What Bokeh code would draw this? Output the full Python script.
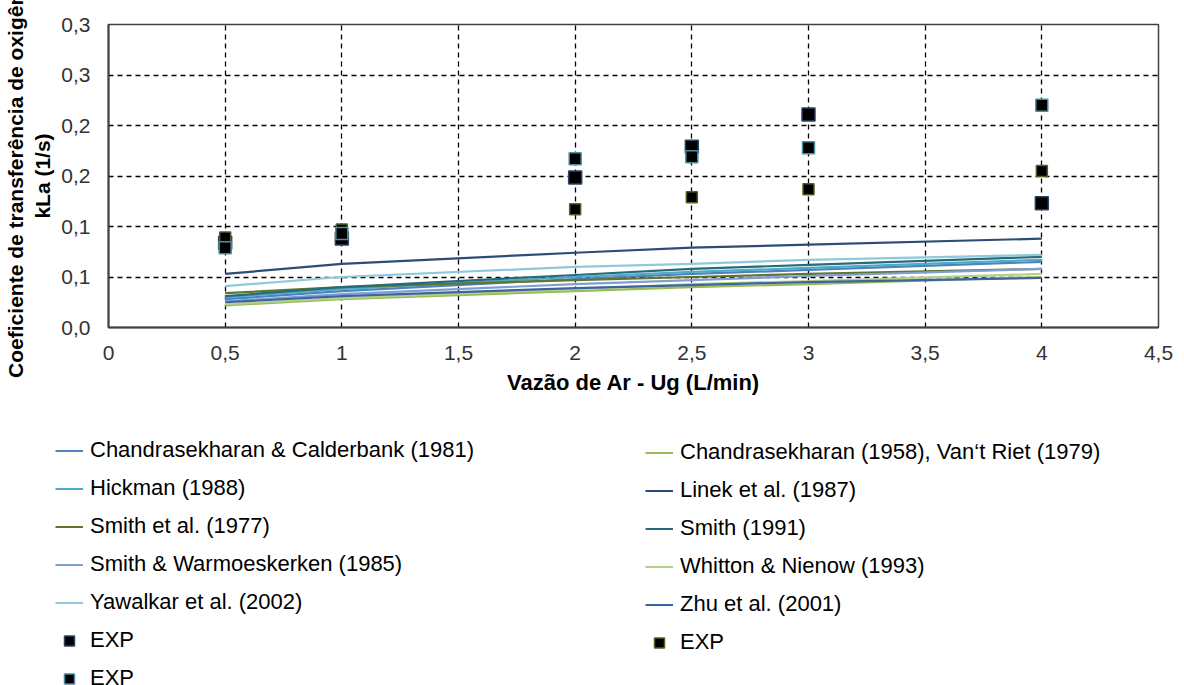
from bokeh.plotting import figure
from bokeh.layouts import column
from bokeh.models import Legend, LegendItem, CustomJSTickFormatter, FixedTicker, Range1d
from bokeh.embed import file_html
from bokeh.resources import INLINE

x_model = [0.5, 1, 2, 2.5, 3, 4]
x_exp = [0.5, 1, 2, 2.5, 3, 4]

cc1981 = [0.028, 0.036, 0.048, 0.053, 0.057, 0.065]
chandra1958 = [0.022, 0.028, 0.036, 0.040, 0.043, 0.050]
hickman = [0.030, 0.038, 0.050, 0.055, 0.059, 0.067]
linek = [0.053, 0.063, 0.074, 0.079, 0.082, 0.088]
smith1977 = [0.034, 0.040, 0.047, 0.050, 0.053, 0.058]
smith1991 = [0.031, 0.040, 0.052, 0.058, 0.062, 0.070]
smith_warmo = [0.026, 0.033, 0.043, 0.047, 0.051, 0.058]
whitton = [0.023, 0.029, 0.038, 0.043, 0.046, 0.053]
yawalkar = [0.041, 0.050, 0.060, 0.063, 0.067, 0.072]
zhu = [0.025, 0.031, 0.039, 0.042, 0.045, 0.049]

exp1 = [0.084, 0.088, 0.1485, 0.179, 0.211, 0.123]
exp2 = [0.089, 0.097, 0.117, 0.129, 0.137, 0.155]
exp3 = [0.079, 0.093, 0.167, 0.169, 0.178, 0.220]

series = [
    ("Chandrasekharan & Calderbank (1981)", cc1981, "#4F81BD"),
    ("Chandrasekharan (1958), Van\u2018t Riet (1979)", chandra1958, "#9BBB59"),
    ("Hickman (1988)", hickman, "#4BACC6"),
    ("Linek et al. (1987)", linek, "#2C4D75"),
    ("Smith et al. (1977)", smith1977, "#5F7530"),
    ("Smith (1991)", smith1991, "#276A7C"),
    ("Smith & Warmoeskerken (1985)", smith_warmo, "#7F9FD3"),
    ("Whitton & Nienow (1993)", whitton, "#B3CF8A"),
    ("Yawalkar et al. (2002)", yawalkar, "#8FCADB"),
    ("Zhu et al. (2001)", zhu, "#3C64A0"),
]

exps = [
    ("EXP", exp1, "#2A4466", 13),
    ("EXP", exp2, "#4F6228", 11),
    ("EXP", exp3, "#4A8FA3", 12),
]

FONT = "Liberation Sans"

# ---------------- main chart ----------------
p = figure(width=1184, height=420, output_backend="svg", toolbar_location=None,
           x_range=Range1d(0, 4.5), y_range=Range1d(0, 0.3),
           min_border_left=108, min_border_right=26, min_border_top=24,
           min_border_bottom=93)
p.frame_align = False

for name, ys, col in series:
    p.line(x_model, ys, line_color=col, line_width=2.2)
for name, ys, col, sz in exps:
    p.scatter(x_exp, ys, marker="square", size=sz, fill_color="black",
              line_color=col, line_width=1.5)

p.xaxis.ticker = FixedTicker(ticks=[0, 0.5, 1, 1.5, 2, 2.5, 3, 3.5, 4, 4.5])
p.yaxis.ticker = FixedTicker(ticks=[0, 0.05, 0.1, 0.15, 0.2, 0.25, 0.3])
p.xaxis.formatter = CustomJSTickFormatter(code="""
  var v = Math.round(tick*10)/10;
  return String(v).replace('.', ',');
""")
p.yaxis.formatter = CustomJSTickFormatter(code="""
  var v = Math.round(tick*10 + 1e-9)/10;
  return v.toFixed(1).replace('.', ',');
""")

for ax in (p.xaxis[0], p.yaxis[0]):
    ax.major_tick_line_color = None
    ax.minor_tick_line_color = None
    ax.axis_line_color = "#404040"
    ax.axis_line_width = 2
    ax.major_label_text_font = FONT
    ax.major_label_text_font_size = "21px"
    ax.major_label_text_color = "#333333"
    ax.axis_label_text_font = FONT
    ax.axis_label_text_font_size = "22px"
    ax.axis_label_text_font_style = "bold"
    ax.axis_label_text_color = "black"

p.xaxis.axis_label = "Vaz\u00e3o de Ar - Ug (L/min)"
p.xaxis.major_label_standoff = 12
p.xaxis.axis_label_standoff = 7
p.yaxis.axis_label = "Coeficiente de transfer\u00eancia de oxig\u00eanio\nkLa (1/s)"
p.yaxis.axis_label_text_font_size = "21px"
p.yaxis.major_label_standoff = 12
p.yaxis.axis_label_standoff = 4

p.xgrid.grid_line_color = "black"
p.ygrid.grid_line_color = "black"
p.xgrid.grid_line_dash = "5 4"
p.ygrid.grid_line_dash = "5 4"
p.xgrid.grid_line_width = 1.3
p.ygrid.grid_line_width = 1.3
p.outline_line_color = "#404040"
p.outline_line_width = 1.5
p.background_fill_color = "white"
p.border_fill_color = "white"

# ---------------- legend panel ----------------
# legend proxies reuse the series data; the ranges keep them out of view
leg = figure(width=1184, height=265, output_backend="svg", toolbar_location=None,
             x_range=Range1d(100, 101), y_range=Range1d(100, 101),
             min_border_left=0, min_border_right=0, min_border_top=0,
             min_border_bottom=0, x_axis_location=None, y_axis_location=None)
leg.frame_align = False
leg.xgrid.visible = False
leg.ygrid.visible = False
leg.outline_line_color = None
leg.background_fill_color = "white"
leg.border_fill_color = "white"

proxies = []
for name, ys, col in series:
    r = leg.line(x_model, ys, line_color=col, line_width=2)
    proxies.append((name, r))
for name, ys, col, sz in exps:
    r = leg.scatter(x_exp, ys, marker="square", size=sz, fill_color="black",
                    line_color=col, line_width=1.5)
    proxies.append((name, r))


def mk_legend(idx, loc):
    lg = Legend(items=[LegendItem(label=proxies[i][0], renderers=[proxies[i][1]]) for i in idx],
                location=loc, orientation="vertical")
    lg.label_text_font = FONT
    lg.label_text_font_size = "22px"
    lg.label_text_color = "black"
    lg.glyph_width = 28
    lg.glyph_height = 25
    lg.label_height = 22
    lg.spacing = 12
    lg.label_standoff = 7
    lg.padding = 0
    lg.margin = 0
    lg.border_line_color = None
    lg.background_fill_alpha = 0
    return lg


leg.add_layout(mk_legend((0, 2, 4, 6, 8, 10, 12), (55, -6)), "center")
leg.add_layout(mk_legend((1, 3, 5, 7, 9, 11), (645, 30)), "center")

layout = column(p, leg, spacing=0)
open("out.html", "w").write(file_html(layout, INLINE))
